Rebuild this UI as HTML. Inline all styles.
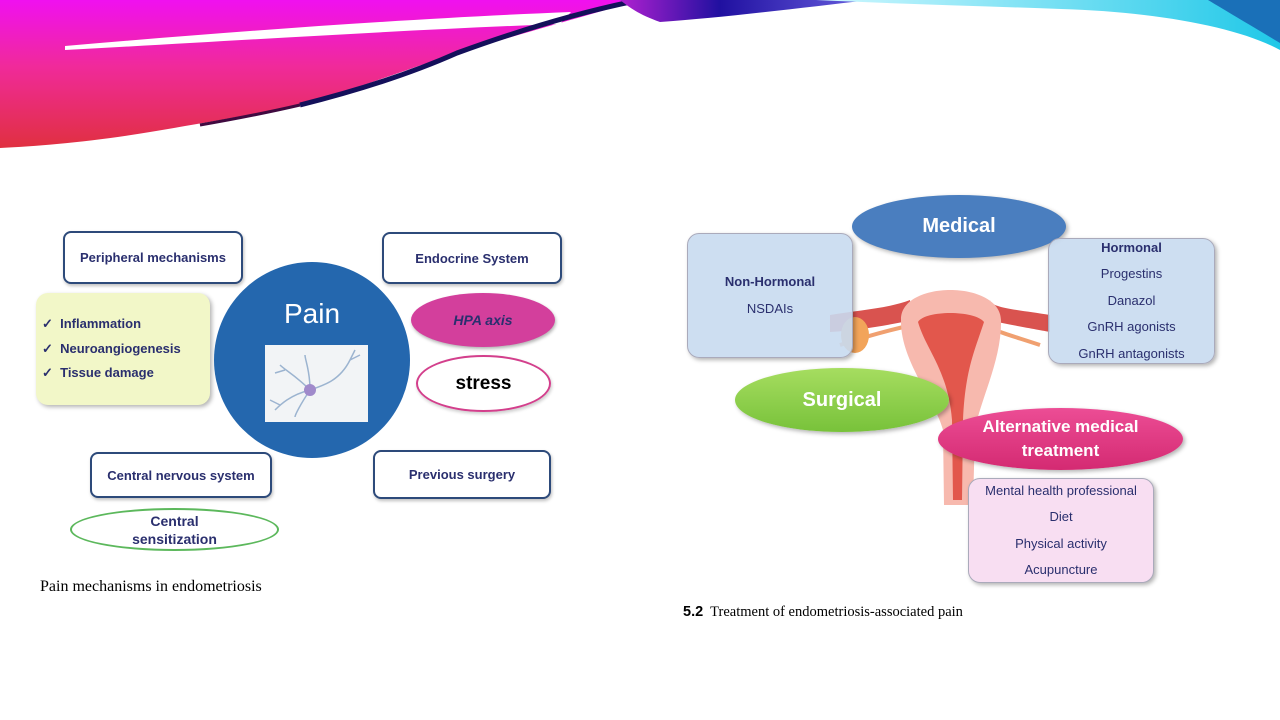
<!DOCTYPE html>
<html><head><meta charset="utf-8"><style>
body{margin:0;width:1280px;height:720px;overflow:hidden;background:#fff;position:relative;font-family:"Liberation Sans",sans-serif}
.a{position:absolute;box-sizing:border-box;display:flex;align-items:center;justify-content:center;text-align:center}
.bx{border:2px solid #2d4a7a;border-radius:8px;background:#fff;color:#2a2f6e;font-weight:bold;font-size:13px;box-shadow:1px 2px 3px rgba(0,0,0,.25)}
.el{border-radius:50%}
.rb{border-radius:12px;flex-direction:column;color:#2a2f6e;font-size:13px;line-height:26.5px;box-shadow:2px 2px 4px rgba(0,0,0,.3);border:1px solid #aab}
</style></head><body>
<svg width="1280" height="160" style="position:absolute;left:0;top:0">
<defs>
<linearGradient id="g1" x1="0" y1="0" x2="0" y2="1"><stop offset="0" stop-color="#f010f0"/><stop offset=".45" stop-color="#f02a9a"/><stop offset="1" stop-color="#e03040"/></linearGradient>
<linearGradient id="g2" x1="0" y1="0" x2="1" y2="0"><stop offset="0" stop-color="#b020d0"/><stop offset=".4" stop-color="#2010a0"/><stop offset="1" stop-color="#6a60e0"/></linearGradient>
<linearGradient id="g3" x1="0" y1="0" x2="1" y2="0"><stop offset="0" stop-color="#d0f8ff"/><stop offset="1" stop-color="#20c8e8"/></linearGradient>
</defs>
<path d="M0 0 H640 C571 20 500 40 457 53 C400 72 343 93 300 105 C250 115 204 123 150 132 C90 142 40 146 0 148 Z" fill="url(#g1)"/>
<path d="M65 46 C250 30 420 18 571 12 L560 24 C400 30 250 40 65 50Z" fill="#fff"/>
<path d="M300 105 C380 85 430 65 457 53 C520 30 580 12 640 0" stroke="#14105a" stroke-width="5" fill="none"/>
<path d="M200 125 C240 118 270 112 300 105" stroke="#400a40" stroke-width="3" fill="none"/>
<path d="M620 0 H870 C800 8 720 18 660 22 C640 15 630 8 620 0Z" fill="url(#g2)"/>
<path d="M816 0 H1280 V50 C1240 28 1160 12 1061 9 C980 6 900 4 816 0Z" fill="url(#g3)"/>
<path d="M1208 0 H1280 V43 C1250 25 1228 12 1208 0Z" fill="#1a70b8"/>
</svg>

<!-- left diagram -->
<div class="a bx" style="left:63px;top:231px;width:180px;height:53px">Peripheral mechanisms</div>
<div class="a bx" style="left:382px;top:232px;width:180px;height:52px">Endocrine System</div>
<div class="a" style="left:36px;top:293px;width:174px;height:112px;background:#f2f7c8;border-radius:12px;box-shadow:2px 2px 4px rgba(0,0,0,.3);flex-direction:column;align-items:flex-start;padding-left:6px;color:#2a2f6e;font-weight:bold;font-size:13px;line-height:24.5px"><div>✓&nbsp; Inflammation</div><div>✓&nbsp; Neuroangiogenesis</div><div>✓&nbsp; Tissue damage</div></div>
<div class="a el" style="left:214px;top:262px;width:196px;height:196px;background:#2467ae;align-items:flex-start;padding-top:36px;color:#fff;font-size:28px">Pain</div>
<svg class="a" style="left:265px;top:345px" width="103" height="77"><rect width="103" height="77" fill="#f2f4f6"/><g stroke="#9cb4d0" fill="none" stroke-width="1.5"><path d="M45 45 C30 30 20 25 15 20 M45 45 C25 50 15 60 10 65 M45 45 C35 60 30 70 30 72 M45 45 C45 25 40 15 40 10 M45 45 C60 40 75 35 85 15 M85 15 L90 5 M85 15 L95 10 M20 25 L10 28 M15 60 L5 55"/></g><circle cx="45" cy="45" r="6" fill="#a08acb"/></svg>
<div class="a el" style="left:411px;top:293px;width:144px;height:54px;background:#d33f9c;color:#2a2f6e;font-weight:bold;font-style:italic;font-size:14px;box-shadow:1px 2px 3px rgba(0,0,0,.3)">HPA axis</div>
<div class="a el" style="left:416px;top:355px;width:135px;height:57px;border:2px solid #d33f8c;color:#000;font-weight:bold;font-size:19px;box-shadow:1px 2px 3px rgba(0,0,0,.2)">stress</div>
<div class="a bx" style="left:90px;top:452px;width:182px;height:46px">Central nervous system</div>
<div class="a bx" style="left:373px;top:450px;width:178px;height:49px">Previous surgery</div>
<div class="a el" style="left:70px;top:508px;width:209px;height:43px;border:2px solid #5cb85c;color:#2a2f6e;font-weight:bold;font-size:14px;line-height:18px">Central<br>sensitization</div>
<div style="position:absolute;left:40px;top:578px;font-family:'Liberation Serif',serif;font-size:16px">Pain mechanisms in endometriosis</div>

<!-- right diagram: uterus -->
<svg style="position:absolute;left:800px;top:260px" width="280" height="250">
<path d="M30 55 C60 50 90 48 110 40 L112 60 C90 65 60 70 30 72Z" fill="#d9534f"/>
<path d="M250 55 C220 50 190 48 190 40 L188 60 C210 65 240 70 250 72Z" fill="#d9534f"/>
<path d="M40 85 C70 75 90 70 112 65" stroke="#f0a070" stroke-width="4" fill="none"/>
<path d="M240 85 C210 75 190 70 188 65" stroke="#f0a070" stroke-width="4" fill="none"/>
<ellipse cx="55" cy="75" rx="14" ry="18" fill="#f2a45a"/>
<path d="M101 60 C100 20 200 20 201 60 C202 100 180 140 175 170 L173 245 H144 L143 170 C135 140 100 100 101 60Z" fill="#f7b9ae"/>
<path d="M118 62 C125 50 175 50 184 62 C175 90 165 110 163 160 L162 240 H153 L152 160 C148 110 126 90 118 62Z" fill="#e2574c"/>
</svg>
<div class="a el" style="left:852px;top:195px;width:214px;height:63px;background:#4a7ebf;color:#fff;font-weight:bold;font-size:20px;box-shadow:2px 2px 4px rgba(0,0,0,.3)">Medical</div>
<div class="a rb" style="left:687px;top:233px;width:166px;height:125px;background:rgba(200,218,240,.9)"><b>Non-Hormonal</b><div>NSDAIs</div></div>
<div class="a rb" style="left:1048px;top:238px;width:167px;height:126px;background:rgba(200,218,240,.9)"><b>Hormonal</b><div>Progestins</div><div>Danazol</div><div>GnRH agonists</div><div>GnRH antagonists</div></div>
<div class="a el" style="left:735px;top:368px;width:214px;height:64px;background:linear-gradient(#a6dd60,#78c23a);color:#fff;font-weight:bold;font-size:20px;box-shadow:2px 2px 4px rgba(0,0,0,.3)">Surgical</div>
<div class="a el" style="left:938px;top:408px;width:245px;height:62px;background:linear-gradient(#ec4d95,#d42a72);color:#fff;font-weight:bold;font-size:17px;line-height:24px;box-shadow:2px 2px 4px rgba(0,0,0,.3)">Alternative medical<br>treatment</div>
<div class="a rb" style="left:968px;top:478px;width:186px;height:105px;background:#f8def2"><div>Mental health professional</div><div>Diet</div><div>Physical activity</div><div>Acupuncture</div></div>
<div style="position:absolute;left:683px;top:604px;font-family:'Liberation Serif',serif;font-size:14.5px"><b style="font-family:'Liberation Sans',sans-serif">5.2</b>&nbsp; Treatment of endometriosis-associated pain</div>
</body></html>
